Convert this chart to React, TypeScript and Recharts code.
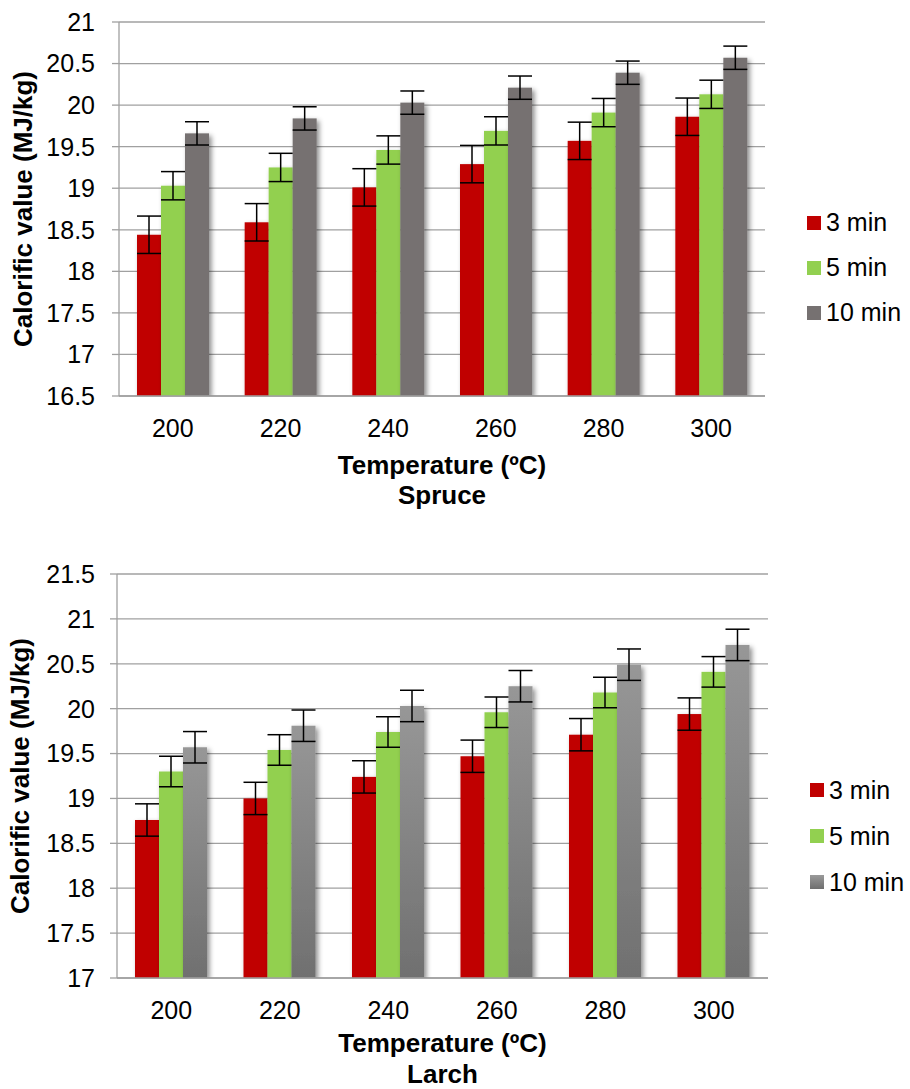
import React from 'react';
import { BarChart, Bar, XAxis, YAxis, CartesianGrid, ErrorBar, Legend, Label } from 'recharts';

const categories = ['200', '220', '240', '260', '280', '300'];
const seriesNames = ['3 min', '5 min', '10 min'];

const spruce3 = [18.44, 18.59, 19.01, 19.29, 19.57, 19.86];
const spruce5 = [19.03, 19.25, 19.46, 19.69, 19.91, 20.13];
const spruce10 = [19.66, 19.84, 20.03, 20.21, 20.39, 20.57];
const spruceErr3 = [0.225, 0.225, 0.225, 0.225, 0.225, 0.225];
const spruceErr5 = [0.17, 0.17, 0.17, 0.17, 0.17, 0.17];
const spruceErr10 = [0.14, 0.14, 0.14, 0.14, 0.14, 0.14];

const larch3 = [18.76, 19.0, 19.24, 19.47, 19.71, 19.94];
const larch5 = [19.3, 19.54, 19.74, 19.96, 20.18, 20.41];
const larch10 = [19.57, 19.81, 20.03, 20.25, 20.49, 20.71];
const larchErr3 = [0.18, 0.18, 0.18, 0.18, 0.18, 0.18];
const larchErr5 = [0.17, 0.17, 0.17, 0.17, 0.17, 0.17];
const larchErr10 = [0.175, 0.175, 0.175, 0.175, 0.175, 0.175];

const spruceTicks = [16.5, 17, 17.5, 18, 18.5, 19, 19.5, 20, 20.5, 21];
const larchTicks = [17, 17.5, 18, 18.5, 19, 19.5, 20, 20.5, 21, 21.5];

const FONT = '"Liberation Sans", Arial, Helvetica, sans-serif';
const RED = '#C00000';
const GREEN = '#92D050';
const GRAY = '#767171';
const GRID = '#A0A0A0';

function buildRows(v3: number[], v5: number[], v10: number[], e3: number[], e5: number[], e10: number[]) {
  return categories.map((c, i) => ({
    cat: c,
    v3: v3[i],
    v5: v5[i],
    v10: v10[i],
    e3: e3[i],
    e5: e5[i],
    e10: e10[i],
  }));
}

const spruceRows = buildRows(spruce3, spruce5, spruce10, spruceErr3, spruceErr5, spruceErr10);
const larchRows = buildRows(larch3, larch5, larch10, larchErr3, larchErr5, larchErr10);

const makeShape = (filterId: string) => (props: any) => {
  const { x, y, width, height, fill } = props;
  if (height == null || height <= 0) return <g />;
  return <rect x={x} y={y} width={width} height={height} fill={fill} filter={`url(#${filterId})`} />;
};

const LegendBox = ({ swatches, rowH }: { swatches: string[]; rowH: number }) => (
  <div style={{ fontFamily: FONT, fontSize: 25, color: '#000', lineHeight: 1 }}>
    {seriesNames.map((n, i) => (
      <div key={n} style={{ display: 'flex', alignItems: 'center', height: rowH, whiteSpace: 'nowrap' }}>
        <span style={{ width: 14, height: 14, background: swatches[i], marginRight: 5, display: 'inline-block' }} />
        <span>{n}</span>
      </div>
    ))}
  </div>
);

const xTitle = (sub: string, dy1: number, dy2: number) => (props: any) => {
  const vb = props.viewBox || {};
  const cx = vb.x + vb.width / 2;
  return (
    <g>
      <text x={cx} y={vb.y + dy1} fontFamily={FONT} fontWeight="bold" fontSize={26} fill="#000" textAnchor="middle">
        Temperature (ºC)
      </text>
      <text x={cx} y={vb.y + dy2} fontFamily={FONT} fontWeight="bold" fontSize={26} fill="#000" textAnchor="middle">
        {sub}
      </text>
    </g>
  );
};

const yTitle = (cxPos: number) => (props: any) => {
  const vb = props.viewBox || {};
  const cy = vb.y + vb.height / 2;
  return (
    <text
      x={cxPos}
      y={cy}
      transform={`rotate(-90 ${cxPos} ${cy})`}
      fontFamily={FONT}
      fontWeight="bold"
      fontSize={26}
      fill="#000"
      textAnchor="middle"
      dominantBaseline="central"
    >
      Calorific value (MJ/kg)
    </text>
  );
};

const tickStyle = { fontFamily: FONT, fontSize: 25, fill: '#000' };

interface PanelProps {
  rows: any[];
  ticks: number[];
  domain: [number, number];
  width: number;
  height: number;
  margin: { top: number; right: number; bottom: number; left: number };
  yAxisWidth: number;
  xAxisHeight: number;
  sub: string;
  idp: string;
  gradient: boolean;
  yTickMargin: number;
  legendLeft: number;
  legendTop: number;
  legendRow: number;
  titleDy: [number, number];
  yLabelX: number;
}

function Panel(p: PanelProps) {
  const shadowId = `${p.idp}Shadow`;
  const gradId = `${p.idp}Grad`;
  const grayFill = p.gradient ? `url(#${gradId})` : GRAY;
  const graySwatch = p.gradient ? 'linear-gradient(#9A9A9A, #6E6E6E)' : GRAY;
  const shape = makeShape(shadowId);
  return (
    <BarChart
      width={p.width}
      height={p.height}
      data={p.rows}
      margin={p.margin}
      barGap={0}
      barSize={24}
    >
      <defs>
        <filter id={shadowId} x="-30%" y="-10%" width="170%" height="130%">
          <feDropShadow dx="2.5" dy="2.5" stdDeviation="2.5" floodColor="#000" floodOpacity="0.45" />
        </filter>
        <linearGradient id={gradId} x1="0" y1="0" x2="0" y2="1">
          <stop offset="0%" stopColor="#979797" />
          <stop offset="100%" stopColor="#707070" />
        </linearGradient>
      </defs>
      <CartesianGrid vertical={false} stroke={GRID} strokeWidth={1.3} />
      <XAxis
        dataKey="cat"
        height={p.xAxisHeight}
        tickLine={false}
        tickSize={0}
        tickMargin={23}
        axisLine={{ stroke: GRID, strokeWidth: 1.3 }}
        tick={tickStyle}
        interval={0}
      >
        <Label content={xTitle(p.sub, p.titleDy[0], p.titleDy[1])} />
      </XAxis>
      <YAxis
        width={p.yAxisWidth}
        domain={p.domain}
        ticks={p.ticks}
        allowDataOverflow
        type="number"
        tickSize={7}
        tickMargin={p.yTickMargin}
        tickLine={{ stroke: GRID, strokeWidth: 1.3 }}
        axisLine={{ stroke: GRID, strokeWidth: 1.3 }}
        tick={tickStyle}
        interval={0}
      >
        <Label content={yTitle(p.yLabelX)} />
      </YAxis>
      <Legend
        layout="vertical"
        align="center"
        verticalAlign="middle"
        wrapperStyle={{ left: p.legendLeft, top: p.legendTop, width: 120 }}
        content={() => <LegendBox swatches={[RED, GREEN, graySwatch]} rowH={p.legendRow} />}
      />
      <Bar dataKey="v3" name={seriesNames[0]} fill={RED} isAnimationActive={false} shape={shape}>
        <ErrorBar dataKey="e3" width={12} stroke="#000" strokeWidth={1.5} direction="y" />
      </Bar>
      <Bar dataKey="v5" name={seriesNames[1]} fill={GREEN} isAnimationActive={false} shape={shape}>
        <ErrorBar dataKey="e5" width={12} stroke="#000" strokeWidth={1.5} direction="y" />
      </Bar>
      <Bar dataKey="v10" name={seriesNames[2]} fill={grayFill} isAnimationActive={false} shape={shape}>
        <ErrorBar dataKey="e10" width={12} stroke="#000" strokeWidth={1.5} direction="y" />
      </Bar>
    </BarChart>
  );
}

export default function App() {
  return (
    <div style={{ position: 'absolute', left: 0, top: 0, width: 910, height: 1089, background: '#fff', overflow: 'hidden' }}>
      <div style={{ position: 'absolute', left: 0, top: 0 }}>
        <Panel
          rows={spruceRows}
          ticks={spruceTicks}
          domain={[16.5, 21]}
          width={910}
          height={540}
          margin={{ top: 22, right: 145, bottom: 24, left: 0 }}
          yAxisWidth={119}
          xAxisHeight={120}
          sub="Spruce"
          idp="spruce"
          gradient={false}
          yTickMargin={17}
          legendLeft={807}
          legendTop={200}
          legendRow={45}
          titleDy={[78, 108]}
          yLabelX={23}
        />
      </div>
      <div style={{ position: 'absolute', left: 0, top: 545 }}>
        <Panel
          rows={larchRows}
          ticks={larchTicks}
          domain={[17, 21.5]}
          width={910}
          height={544}
          margin={{ top: 29, right: 142, bottom: 0, left: 0 }}
          yAxisWidth={117}
          xAxisHeight={111}
          sub="Larch"
          idp="larch"
          gradient={true}
          yTickMargin={15}
          legendLeft={810}
          legendTop={222}
          legendRow={46}
          titleDy={[74, 105]}
          yLabelX={20}
        />
      </div>
    </div>
  );
}
